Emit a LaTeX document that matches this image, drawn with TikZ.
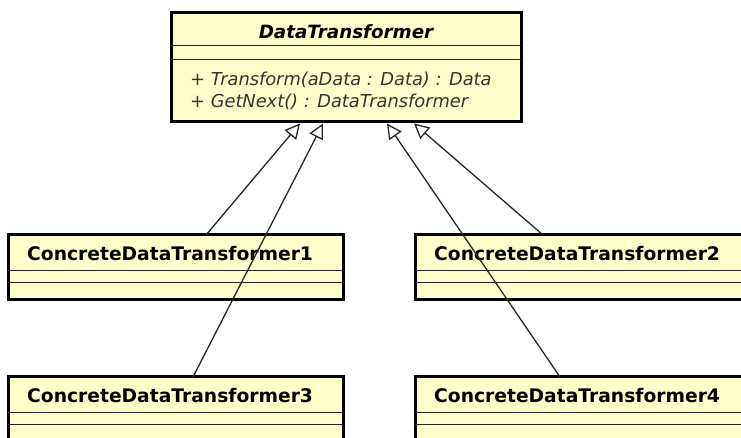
\documentclass[tikz,border=0pt]{standalone}
\usepackage{fontspec}
\setmainfont{DejaVu Sans}
\usepackage{tikz}
\usetikzlibrary{arrows.meta, positioning}
\definecolor{classfill}{HTML}{FFFFCC}
\definecolor{optext}{HTML}{333333}
\tikzset{
  % UML class frames
  umlclass/.style={
    draw=black, fill=classfill, line width=3pt, outer sep=0pt,
    minimum width=335pt, minimum height=65pt, inner sep=0pt,
  },
  % compartment separators
  compsep/.style={line width=1pt, black!85},
  % class names and operations
  clsname/.style={font=\fontsize{18.7}{22}\selectfont\bfseries, inner sep=0pt},
  absname/.style={font=\fontsize{18.3}{22}\selectfont\bfseries\itshape, inner sep=0pt},
  opname/.style={font=\fontsize{17.8}{22}\selectfont\itshape, text=optext, inner sep=0pt},
  % generalization arrows
  inherit/.style={-{Triangle[length=15pt, width=15pt, fill=white, line width=1.3pt]},
                  line width=1.3pt, black!85},
}
\begin{document}
\begin{tikzpicture}[x=1pt, y=1pt]
\useasboundingbox (0,0) rectangle (741,438);
\clip (0,0) rectangle (741,438);

% ====================================================================
% Abstract base class
% ====================================================================
\node[umlclass, minimum width=350pt, minimum height=109pt] (dt) at (346,370.5) {};
\node[absname, anchor=base] (dtname) at ([yshift=-26pt] dt.north) {DataTransformer};
\draw[compsep] ([yshift=-33pt] dt.north west) -- ([yshift=-33pt] dt.north east);
\draw[compsep] ([yshift=-47pt] dt.north west) -- ([yshift=-47pt] dt.north east);
\node[opname, anchor=base west] (optransform) at ([xshift=19pt, yshift=-73pt] dt.north west)
  {+ Transform(aData : Data) : Data};
\node[opname, anchor=base west] (opnext) at ([xshift=19pt, yshift=-95pt] dt.north west)
  {+ GetNext() : DataTransformer};

% ====================================================================
% Concrete subclasses
% ====================================================================
\node[umlclass] (cdt1) at (175.5,170.5) {};
\node[umlclass, right=72pt of cdt1] (cdt2) {};
\node[umlclass, below=77pt of cdt1] (cdt3) {};
\node[umlclass, below=77pt of cdt2] (cdt4) {};

\foreach \cls/\num in {cdt1/1, cdt2/2, cdt3/3, cdt4/4} {
  \node[clsname, anchor=base west] (\cls name) at ([xshift=19pt, yshift=-26pt] \cls.north west)
    {ConcreteDataTransformer\num};
  \draw[compsep] ([yshift=-36pt] \cls.north west) -- ([yshift=-36pt] \cls.north east);
  \draw[compsep] ([yshift=-47.5pt] \cls.north west) -- ([yshift=-47.5pt] \cls.north east);
}

% Generalization arrows
\coordinate (g1) at ([xshift=-46pt, yshift=-1.5pt] dt.south);
\coordinate (g3) at ([xshift=-23pt, yshift=-1.5pt] dt.south);
\coordinate (g4) at ([xshift=41pt, yshift=-1.5pt] dt.south);
\coordinate (g2) at ([xshift=68pt, yshift=-1.5pt] dt.south);

\draw[inherit] ([xshift=30.5pt] cdt1.north) -- (g1);
\draw[inherit] ([xshift=-39.5pt] cdt2.north) -- (g2);
\draw[inherit] ([xshift=17.5pt] cdt3.north) -- (g3);
\draw[inherit] ([xshift=-22.5pt] cdt4.north) -- (g4);

\end{tikzpicture}
\end{document}
